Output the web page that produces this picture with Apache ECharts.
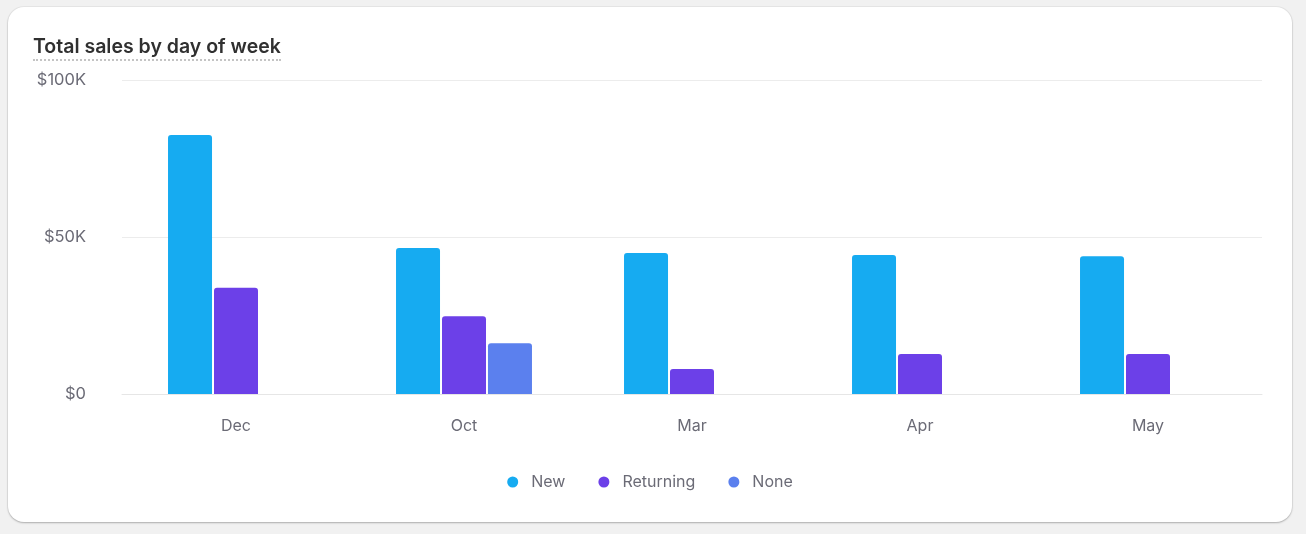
<!DOCTYPE html>
<html>
<head>
<meta charset="utf-8">
<script src="https://cdn.jsdelivr.net/npm/echarts@6/dist/echarts.min.js"></script>
<style>
	html, body { margin: 0; padding: 0; background: #f1f1f1; width: 1306px; height: 534px; overflow: hidden; }
	#card {
		position: absolute; left: 8px; top: 7px; width: 1284px; height: 515px;
		background: #fff; border-radius: 16px;
		box-shadow: 0 1px 2px rgba(0,0,0,0.25), 0 0 0 1px rgba(0,0,0,0.04);
	}
	#title {
		position: absolute; left: 25px; top: 27px;
		font-family: Inter, sans-serif; font-size: 19.5px; font-weight: 600; color: #303030;
		padding-bottom: 1px; border-bottom: 2px dotted #c4c4c4; line-height: 24px;
	}
	#chart { position: absolute; left: 0; top: 0; width: 1284px; height: 515px; }
</style>
</head>
<body>
<div id="card">
	<div id="chart"></div>
	<div id="title">Total sales by day of week</div>
</div>
<script>
// chart data
const months = ['Dec', 'Oct', 'Mar', 'Apr', 'May']
const newSales = [82500, 46500, 44900, 44300, 43900]
const returningSales = [33800, 24800, 8000, 12700, 12700]
const noneSales = [null, 16200, null, null, null]
const yTicks = [0, 50000, 100000]

const fmt = v => (v === 0 ? '$0' : '$' + v / 1000 + 'K')

const chart = echarts.init(document.getElementById('chart'))

const barStyle = color => ({
	color: color,
	borderRadius: [3, 3, 0, 0]
})

chart.setOption({
	textStyle: { fontFamily: 'Inter, sans-serif' },
	animation: false,
	grid: {
		left: 114,
		right: 30,
		top: 73,
		bottom: 128
	},
	legend: {
		bottom: 27,
		icon: 'circle',
		itemWidth: 11,
		itemHeight: 11,
		itemGap: 33,
		textStyle: { color: '#6b6b76', fontSize: 16, padding: [0, 0, 0, 8] },
		data: ['New', 'Returning', 'None']
	},
	xAxis: {
		type: 'category',
		data: months,
		axisTick: { show: false },
		axisLine: { lineStyle: { color: '#e6e6e6' } },
		axisLabel: { color: '#6b6b76', fontSize: 16, margin: 24 }
	},
	yAxis: {
		type: 'value',
		min: yTicks[0],
		max: yTicks[yTicks.length - 1],
		interval: 50000,
		axisLabel: { color: '#6b6b76', fontSize: 16.5, margin: 36, formatter: fmt },
		splitLine: { lineStyle: { color: '#ececec' } }
	},
	series: [
		{
			name: 'New',
			type: 'bar',
			data: newSales,
			barWidth: 44,
			barGap: '4.5%',
			itemStyle: barStyle('#16abf1')
		},
		{
			name: 'Returning',
			type: 'bar',
			data: returningSales,
			barWidth: 44,
			barGap: '4.5%',
			itemStyle: barStyle('#6c40e8')
		},
		{
			name: 'None',
			type: 'bar',
			data: noneSales,
			barWidth: 44,
			barGap: '4.5%',
			itemStyle: barStyle('#5b80ee')
		}
	]
})
</script>
</body>
</html>
